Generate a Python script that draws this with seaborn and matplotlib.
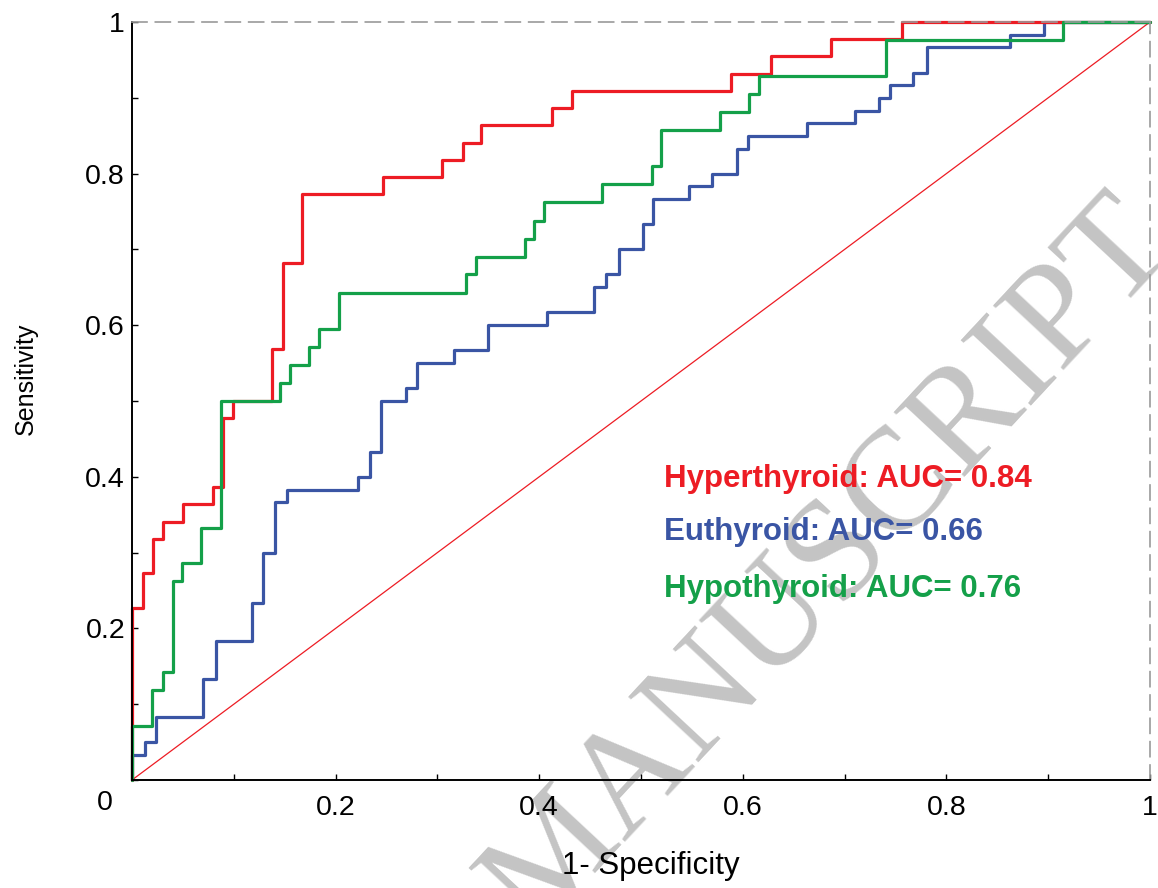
import matplotlib
matplotlib.use("Agg")
import matplotlib.pyplot as plt
import seaborn as sns

# ---------------- data ----------------
hyper_fpr = [0, 0, 0.0105, 0.021, 0.030, 0.050, 0.080, 0.089, 0.0995, 0.138, 0.148,
             0.167, 0.247, 0.305, 0.325, 0.343, 0.413, 0.4325, 0.588, 0.628, 0.687,
             0.756, 1.0]
hyper_tpr = [0, 0.227, 0.273, 0.318, 0.341, 0.364, 0.386, 0.477, 0.5, 0.568, 0.682,
             0.773, 0.795, 0.818, 0.841, 0.864, 0.886, 0.909, 0.932, 0.955, 0.977,
             1.0, 1.0]

eu_fpr = [0, 0, 0.0128, 0.0236, 0.070, 0.0825, 0.1175, 0.129, 0.1405, 0.152,
          0.222, 0.234, 0.245, 0.269, 0.280, 0.316, 0.350, 0.408, 0.454, 0.466,
          0.478, 0.502, 0.512, 0.5475, 0.570, 0.594, 0.605, 0.663, 0.710, 0.734,
          0.745, 0.7675, 0.781, 0.862, 0.896, 1.0]
eu_tpr = [0, 0.033, 0.050, 0.083, 0.133, 0.183, 0.233, 0.300, 0.367, 0.383,
          0.400, 0.433, 0.500, 0.517, 0.550, 0.567, 0.600, 0.617, 0.650, 0.667,
          0.700, 0.733, 0.767, 0.783, 0.800, 0.833, 0.850, 0.867, 0.883, 0.900,
          0.917, 0.933, 0.967, 0.983, 1.0, 1.0]

hypo_fpr = [0, 0, 0.020, 0.030, 0.040, 0.049, 0.068, 0.0875, 0.145, 0.155, 0.174,
            0.184, 0.203, 0.328, 0.338, 0.386, 0.395, 0.405, 0.462, 0.5105, 0.520,
            0.578, 0.606, 0.616, 0.741, 0.915, 1.0]
hypo_tpr = [0, 0.071, 0.119, 0.143, 0.262, 0.286, 0.333, 0.5, 0.524, 0.548, 0.571,
            0.595, 0.643, 0.667, 0.690, 0.714, 0.738, 0.762, 0.786, 0.810, 0.857,
            0.881, 0.905, 0.929, 0.976, 1.0, 1.0]

diag_x = [0, 1]
diag_y = [0, 1]

auc_labels = ["Hyperthyroid: AUC= 0.84", "Euthyroid: AUC= 0.66", "Hypothyroid: AUC= 0.76"]
tick_values = [0, 0.1, 0.2, 0.3, 0.4, 0.5, 0.6, 0.7, 0.8, 0.9, 1.0]
tick_labels = ["", "", "0.2", "", "0.4", "", "0.6", "", "0.8", "", "1"]
x_title = "1- Specificity"
y_title = "Sensitivity"
watermark = "MANUSCRIPT"

RED = "#ED1C24"
BLUE = "#3A55A4"
GREEN = "#14A049"

# ---------------- figure ----------------
sns.set_theme(style="white")
plt.rcParams["font.family"] = ["Liberation Sans", "DejaVu Sans"]

fig = plt.figure(figsize=(11.58, 8.88), dpi=100)
fig.patch.set_facecolor("white")
ax = fig.add_axes([132 / 1158, 1 - 780 / 888, 1018 / 1158, 758 / 888])
ax.patch.set_visible(False)

# watermark (behind everything)
fig.text(830 / 1158, 1 - 565 / 888, watermark, rotation=47, rotation_mode="anchor",
         ha="center", va="center", fontsize=105, family=["Liberation Serif", "DejaVu Serif"],
         color="#c4c4c4", zorder=-1)

common = dict(ax=ax, sort=False, estimator=None, clip_on=False)
sns.lineplot(x=diag_x, y=diag_y, color=RED, lw=0.9, **common)
sns.lineplot(x=eu_fpr, y=eu_tpr, color=BLUE, lw=2.3, drawstyle="steps-post", **common)
sns.lineplot(x=hyper_fpr, y=hyper_tpr, color=RED, lw=2.3, drawstyle="steps-post", **common)
sns.lineplot(x=hypo_fpr, y=hypo_tpr, color=GREEN, lw=2.3, drawstyle="steps-post", **common)

ax.set_xlim(0, 1)
ax.set_ylim(0, 1)
ax.set_xticks(tick_values)
ax.set_xticklabels(tick_labels)
ax.set_yticks(tick_values)
ax.set_yticklabels(tick_labels)
ax.tick_params(direction="in", length=4, width=1, color="black", labelsize=20.5,
               labelcolor="black", top=False, right=False, left=True, bottom=True)
ax.tick_params(axis="x", pad=11)
ax.tick_params(axis="y", pad=5)

for s in ["left", "bottom"]:
    ax.spines[s].set_color("black")
    ax.spines[s].set_linewidth(1.4)
for s in ["top", "right"]:
    ax.spines[s].set_color("#9a9a9a")
    ax.spines[s].set_linewidth(1.2)
    ax.spines[s].set_linestyle((0, (9, 5)))

ax.set_xlabel(x_title, fontsize=22.5, color="black")
ax.set_ylabel(y_title, fontsize=18, color="black")
ax.xaxis.set_label_coords(0.51, -0.094)
ax.yaxis.set_label_coords(-0.093, 0.529)

# origin label
ax.text(-0.0265, -0.030, "0", transform=ax.transAxes, ha="center", va="center",
        fontsize=20.5, color="black")

# AUC annotations
for lab, col, yb in zip(auc_labels, [RED, BLUE, GREEN], [0.387, 0.3166, 0.2418]):
    ax.text(0.5226, yb, lab, color=col, fontsize=22.5, fontweight="bold",
            ha="left", va="baseline")

fig.savefig("out.png", dpi=100)
